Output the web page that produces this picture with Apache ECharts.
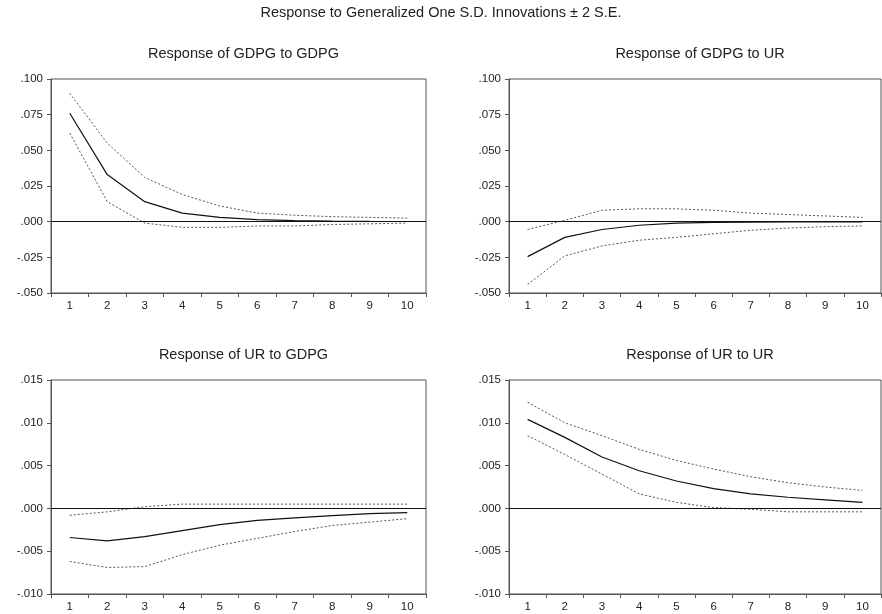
<!DOCTYPE html>
<html>
<head>
<meta charset="utf-8">
<script src="https://cdn.jsdelivr.net/npm/echarts@6/dist/echarts.min.js"></script>
<style>
html, body { margin: 0; padding: 0; background: #fff; }
#main { width: 882px; height: 614px; }
</style>
</head>
<body>
<div id="main"></div>
<script>
var periods = ['1', '2', '3', '4', '5', '6', '7', '8', '9', '10'];

// Response of GDPG to GDPG
var gg_resp  = [0.076, 0.033, 0.014, 0.006, 0.003, 0.0015, 0.0008, 0.0004, 0.0002, 0.0001];
var gg_upper = [0.090, 0.055, 0.031, 0.019, 0.011, 0.006, 0.0045, 0.0035, 0.003, 0.0025];
var gg_lower = [0.062, 0.014, -0.001, -0.004, -0.004, -0.003, -0.003, -0.002, -0.0015, -0.001];

// Response of GDPG to UR
var gu_resp  = [-0.0245, -0.011, -0.0055, -0.0025, -0.001, -0.0005, -0.0003, -0.0001, -0.0001, -0.0001];
var gu_upper = [-0.0055, 0.001, 0.008, 0.009, 0.009, 0.008, 0.006, 0.005, 0.004, 0.003];
var gu_lower = [-0.044, -0.024, -0.017, -0.013, -0.011, -0.0085, -0.006, -0.0045, -0.0035, -0.003];

// Response of UR to GDPG
var ug_resp  = [-0.0034, -0.0038, -0.0033, -0.0026, -0.0019, -0.0014, -0.0011, -0.00085, -0.0006, -0.0005];
var ug_upper = [-0.0008, -0.0004, 0.0002, 0.0005, 0.0005, 0.0005, 0.0005, 0.0005, 0.0005, 0.0005];
var ug_lower = [-0.0062, -0.0069, -0.0068, -0.0054, -0.0043, -0.0035, -0.0027, -0.0020, -0.0016, -0.0012];

// Response of UR to UR
var uu_resp  = [0.0104, 0.0083, 0.0060, 0.0044, 0.0032, 0.0023, 0.0017, 0.0013, 0.0010, 0.0007];
var uu_upper = [0.0124, 0.0100, 0.0085, 0.0069, 0.0056, 0.0046, 0.0037, 0.0030, 0.0025, 0.0021];
var uu_lower = [0.0085, 0.0063, 0.0040, 0.0017, 0.0007, 0.0001, -0.0001, -0.0004, -0.0004, -0.0004];

var panelTitles = ['Response of GDPG to GDPG', 'Response of GDPG to UR',
                   'Response of UR to GDPG', 'Response of UR to UR'];

var font = 'Liberation Sans, Arial, sans-serif';

function yLabel(v) {
    // EViews style: .050, -.025
    var s = Math.abs(v).toFixed(3).replace(/^0/, '');
    return (v < 0 ? '-' : '') + s;
}

var grids = [
    {left: 51, top: 79, width: 375, height: 214},
    {left: 509, top: 79, width: 372, height: 214},
    {left: 51, top: 380, width: 375, height: 214},
    {left: 509, top: 380, width: 372, height: 214}
];

var ranges = [
    {min: -0.05, max: 0.1, interval: 0.025},
    {min: -0.05, max: 0.1, interval: 0.025},
    {min: -0.01, max: 0.015, interval: 0.005},
    {min: -0.01, max: 0.015, interval: 0.005}
];

var panels = [
    [gg_resp, gg_upper, gg_lower],
    [gu_resp, gu_upper, gu_lower],
    [ug_resp, ug_upper, ug_lower],
    [uu_resp, uu_upper, uu_lower]
];

var xAxes = [], yAxes = [], series = [], titles = [];

titles.push({
    text: 'Response to Generalized One S.D. Innovations \u00b1 2 S.E.',
    left: 'center',
    top: 0,
    textStyle: {fontFamily: font, fontSize: 14.5, fontWeight: 'normal', color: '#222'}
});

grids.forEach(function (g, i) {
    g.show = true;
    g.borderColor = '#555';
    g.borderWidth = 1;
    g.backgroundColor = '#fff';
    titles.push({
        text: panelTitles[i],
        left: g.left + g.width / 2,
        textAlign: 'center',
        top: g.top - 38,
        textStyle: {fontFamily: font, fontSize: 14.5, fontWeight: 'normal', color: '#222'}
    });
    xAxes.push({
        type: 'category',
        gridIndex: i,
        data: periods,
        boundaryGap: true,
        axisLine: {onZero: false, lineStyle: {color: '#555'}},
        axisTick: {show: true, length: 4, lineStyle: {color: '#555'}},
        axisLabel: {fontFamily: font, fontSize: 11.5, color: '#222', margin: 7}
    });
    yAxes.push({
        type: 'value',
        gridIndex: i,
        min: ranges[i].min,
        max: ranges[i].max,
        interval: ranges[i].interval,
        splitLine: {show: false},
        axisLine: {show: true, lineStyle: {color: '#555'}},
        axisTick: {show: true, length: 4, lineStyle: {color: '#555'}},
        axisLabel: {fontFamily: font, fontSize: 11.5, color: '#222', margin: 8, formatter: yLabel}
    });
    var d = panels[i];
    series.push({
        type: 'line',
        xAxisIndex: i,
        yAxisIndex: i,
        data: d[0],
        symbol: 'none',
        lineStyle: {color: '#111', width: 1.2},
        markLine: {
            silent: true,
            symbol: 'none',
            label: {show: false},
            lineStyle: {color: '#111', width: 1, type: 'solid'},
            data: [{yAxis: 0}]
        },
        z: 3
    });
    series.push({
        type: 'line',
        xAxisIndex: i,
        yAxisIndex: i,
        data: d[1],
        symbol: 'none',
        lineStyle: {color: '#555', width: 1, type: [2, 2]}
    });
    series.push({
        type: 'line',
        xAxisIndex: i,
        yAxisIndex: i,
        data: d[2],
        symbol: 'none',
        lineStyle: {color: '#555', width: 1, type: [2, 2]}
    });
});

var chart = echarts.init(document.getElementById('main'));
var option = {
    backgroundColor: '#fff',
    animation: false,
    title: titles,
    grid: grids,
    xAxis: xAxes,
    yAxis: yAxes,
    series: series
};
chart.setOption(option);
</script>
</body>
</html>
